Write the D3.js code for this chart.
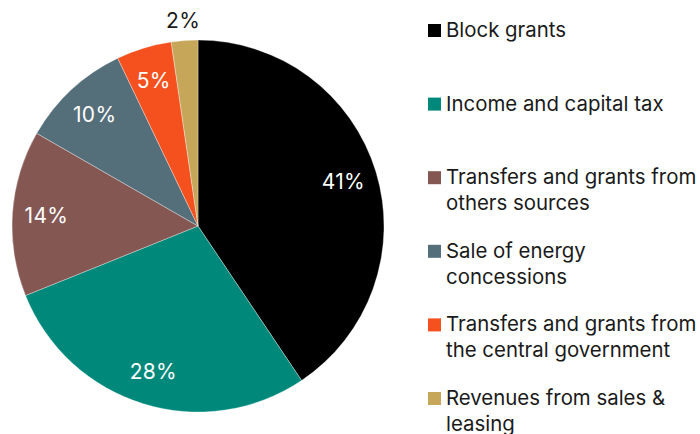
<!DOCTYPE html>
<html>
<head>
<meta charset="utf-8">
<script src="https://cdn.jsdelivr.net/npm/d3@7"></script>
<style>
  html, body { margin: 0; padding: 0; background: #fff; }
  svg { display: block; }
  text { font-family: Inter, "Noto Sans", sans-serif; }
</style>
</head>
<body>
<svg id="chart" width="700" height="434"></svg>
<script>
const categories = [
  "Block grants",
  "Income and capital tax",
  "Transfers and grants from others sources",
  "Sale of energy concessions",
  "Transfers and grants from the central government",
  "Revenues from sales & leasing"
];
const legendLines = [
  ["Block grants"],
  ["Income and capital tax"],
  ["Transfers and grants from", "others sources"],
  ["Sale of energy", "concessions"],
  ["Transfers and grants from", "the central government"],
  ["Revenues from sales &", "leasing"]
];
const values = [40.6, 28.3, 14.4, 9.6, 4.8, 2.3];
const valueLabels = ["41%", "28%", "14%", "10%", "5%", "2%"];
const colors = ["#000000", "#00897b", "#845752", "#546e7a", "#f4511e", "#c6a659"];

const svg = d3.select("#chart");
const cx = 198, cy = 226, R = 186;

const data = categories.map((c, i) => ({ name: c, value: values[i], label: valueLabels[i], color: colors[i], lines: legendLines[i] }));

const pie = d3.pie().value(d => d.value).sort(null);
const arcs = pie(data);
const arc = d3.arc().innerRadius(0).outerRadius(R);
const labelArc = d3.arc().innerRadius(152).outerRadius(152);
const outerLabelArc = d3.arc().innerRadius(206).outerRadius(206);

const g = svg.append("g").attr("transform", `translate(${cx},${cy})`);
g.selectAll("path.slice").data(arcs).join("path")
  .attr("class", "slice")
  .attr("d", arc)
  .attr("fill", d => d.data.color)
  .attr("stroke", "rgba(255,255,255,0.55)")
  .attr("stroke-width", 0.6);

g.selectAll("text.lbl").data(arcs).join("text")
  .attr("class", "lbl")
  .attr("transform", d => {
    const small = (d.endAngle - d.startAngle) < 0.2;
    const p = (small ? outerLabelArc : labelArc).centroid(d);
    return `translate(${p[0]},${p[1]})`;
  })
  .attr("text-anchor", "middle")
  .attr("dy", "0.36em")
  .attr("font-size", 21)
  .attr("letter-spacing", 0.3)
  .attr("fill", d => (d.endAngle - d.startAngle) < 0.2 ? "#1a1a1a" : "#ffffff")
  .text(d => d.data.label);

// Legend
const legend = svg.append("g");
const yScale = d3.scalePoint().domain(categories).range([37, 405]);
const items = legend.selectAll("g.item").data(data).join("g")
  .attr("class", "item")
  .attr("transform", d => `translate(428,${yScale(d.name)})`);
items.append("rect")
  .attr("x", 0).attr("y", -13).attr("width", 13).attr("height", 13)
  .attr("fill", d => d.color);
items.append("text")
  .attr("x", 18).attr("y", 0)
  .attr("font-size", 20.4)
  .attr("fill", "#1a1a1a")
  .selectAll("tspan").data(d => d.lines).join("tspan")
  .attr("x", 18)
  .attr("dy", (d, i) => i === 0 ? 0 : 26)
  .text(d => d);
</script>
</body>
</html>
